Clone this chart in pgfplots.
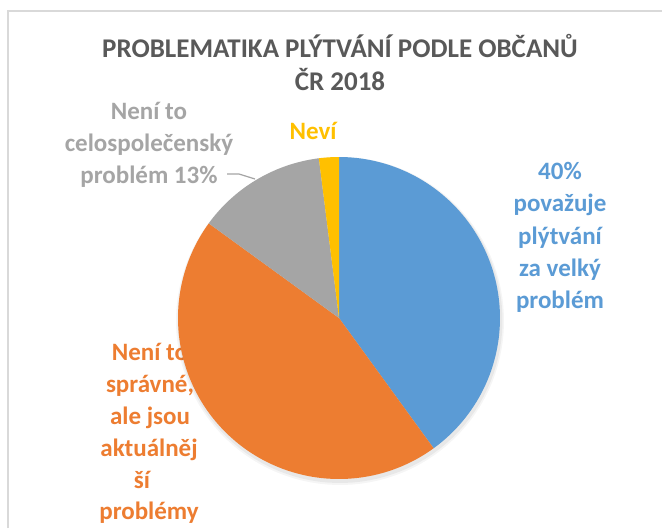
\documentclass[border=0pt]{standalone}
\usepackage{fontspec}
\setmainfont{Carlito}
\usepackage{pgfplots}
\pgfplotsset{compat=1.18}
\usepackage{pgfplotstable}
\definecolor{cblue}{HTML}{5B9BD5}
\definecolor{corange}{HTML}{ED7D31}
\definecolor{cgray}{HTML}{A5A5A5}
\definecolor{cyellow}{HTML}{FFC000}
\definecolor{ctitle}{HTML}{595959}
\definecolor{cframe}{HTML}{D9D9D9}
\pgfplotstableread{
slice value
velky 40
aktualnejsi 45
celospolecensky 13
nevi 2
}\piedata
\pgfplotstablegetelem{0}{value}\of\piedata\let\vA\pgfplotsretval
\pgfplotstablegetelem{1}{value}\of\piedata\let\vB\pgfplotsretval
\pgfplotstablegetelem{2}{value}\of\piedata\let\vC\pgfplotsretval
\pgfplotstablegetelem{3}{value}\of\piedata\let\vD\pgfplotsretval
\pgfmathsetmacro{\aA}{\vA*3.6}
\pgfmathsetmacro{\aB}{\aA+\vB*3.6}
\pgfmathsetmacro{\aC}{\aB+\vC*3.6}
\pgfmathsetmacro{\aD}{\aC+\vD*3.6}
\newcommand{\lab}{\fontsize{25}{32}\selectfont\bfseries}
\begin{document}
\begin{tikzpicture}
\path[use as bounding box] (0,0) rectangle (662pt,528pt);
\fill[white] (0,0) rectangle (662pt,528pt);
\draw[cframe, line width=1.5pt] (8pt,0pt) -- (8pt,517pt) -- (662pt,517pt);
% orange label (behind the pie)
\foreach \xx/\yy/\txt in {150/361/{Není to}, 150/393/{správné,}, 150/425/{ale jsou}, 149/457/{aktuálněj}, 142/489/{ší}, 149/519/{problémy}}
  \node[anchor=base, inner sep=0pt, text=corange, font=\lab] at (\xx pt, {(528-\yy)*1pt}) {\txt};
\begin{axis}[
  at={(0,0)}, anchor=south west,
  scale only axis, width=662pt, height=528pt,
  xmin=0, xmax=662, ymin=0, ymax=528, y dir=reverse,
  hide axis, clip=false]
% soft shadow
\addplot[fill=black, opacity=0.04, draw=none, domain=0:360, samples=120] ({340+164*sin(x)},{321-164*cos(x)}) -- cycle;
\addplot[fill=black, opacity=0.05, draw=none, domain=0:360, samples=120] ({340+162.5*sin(x)},{320.5-162.5*cos(x)}) -- cycle;
% slices
\addplot[fill=cblue, draw=none, domain=0:\aA, samples=90] ({339+161*sin(x)},{318-161*cos(x)}) -- (axis cs:339,318) -- cycle;
\addplot[fill=corange, draw=none, domain=\aA:\aB, samples=90] ({339+161*sin(x)},{318-161*cos(x)}) -- (axis cs:339,318) -- cycle;
\addplot[fill=cgray, draw=none, domain=\aB:\aC, samples=40] ({339+161*sin(x)},{318-161*cos(x)}) -- (axis cs:339,318) -- cycle;
\addplot[fill=cyellow, draw=none, domain=\aC:\aD, samples=10] ({339+161*sin(x)},{318-161*cos(x)}) -- (axis cs:339,318) -- cycle;
% leader line
\addplot[cgray, line width=1.2pt] coordinates {(227,174) (239,174) (255,179)};
\end{axis}
% title
\node[anchor=base, inner sep=0pt, text=ctitle, font=\fontsize{27}{33}\selectfont\bfseries] at (340pt, {(528-58)*1pt}) {PROBLEMATIKA PLÝTVÁNÍ PODLE OBČANŮ};
\node[anchor=base, inner sep=0pt, text=ctitle, font=\fontsize{27}{33}\selectfont\bfseries] at (340pt, {(528-91)*1pt}) {ČR 2018};
% blue label
\foreach \yy/\txt in {180/{40\%}, 212/{považuje}, 245/{plýtvání}, 277/{za velký}, 309/{problém}}
  \node[anchor=base, inner sep=0pt, text=cblue, font=\lab] at (560pt, {(528-\yy)*1pt}) {\txt};
% gray label
\foreach \yy/\txt in {120/{Není to}, 152/{celospolečenský}, 184/{problém 13\%}}
  \node[anchor=base, inner sep=0pt, text=cgray, font=\lab] at (149pt, {(528-\yy)*1pt}) {\txt};
% yellow label
\node[anchor=base, inner sep=0pt, text=cyellow, font=\lab] at (313pt, {(528-140)*1pt}) {Neví};
\end{tikzpicture}
\end{document}
